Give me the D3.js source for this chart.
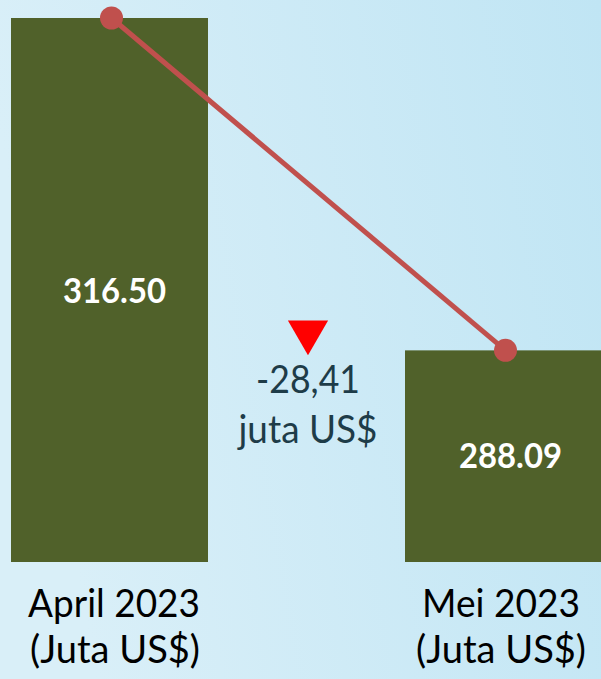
<!DOCTYPE html>
<meta charset="utf-8">
<style>
    body { margin: 0; }
    text { font-family: Lato, "Open Sans", sans-serif; }
    .bar { fill: #50612a; }
    .trend { stroke: #c0504d; stroke-width: 5; fill: none; }
    .dot { fill: #c0504d; }
    .val { fill: #ffffff; font-weight: bold; }
    .delta { fill: #1e3c48; }
    .cat { fill: #000000; }
</style>
<body>
<script src="https://cdn.jsdelivr.net/npm/d3@7"></script>
<script>

    var months = ["April 2023", "Mei 2023"];
    var values = [316.50, 288.09];
    var valueLabels = ["316.50", "288.09"];
    var unitLabel = "(Juta US$)";

    var width = 601, height = 679;

    var svg = d3.select("body").append("svg")
            .attr("width", width)
            .attr("height", height);

    var grad = svg.append("defs").append("linearGradient")
            .attr("id", "bg")
            .attr("x1", "0%").attr("y1", "20%")
            .attr("x2", "100%").attr("y2", "0%");
    grad.append("stop").attr("offset", "0%").attr("stop-color", "#d9eff8");
    grad.append("stop").attr("offset", "100%").attr("stop-color", "#c0e5f4");

    svg.append("rect").attr("width", width).attr("height", height).attr("fill", "url(#bg)");

    var x = d3.scaleBand()
            .domain(months)
            .range([11, 602])
            .paddingInner(0.5);

    var y = d3.scaleLinear()
            .domain([270, 316.5])
            .range([562, 18]);

    var data = months.map(function(m, i) { return {month: m, value: values[i], label: valueLabels[i]}; });

    svg.selectAll("rect.bar").data(data).enter()
            .append("rect")
            .attr("class", "bar")
            .attr("x", function(d) { return x(d.month); })
            .attr("y", function(d) { return y(d.value); })
            .attr("width", x.bandwidth())
            .attr("height", function(d) { return y.range()[0] - y(d.value); });

    var cx = function(d) { return x(d.month) + x.bandwidth() / 2 + 2; };

    svg.append("path")
            .attr("class", "trend")
            .attr("d", d3.line().x(cx).y(function(d) { return y(d.value); })(data));

    svg.selectAll("circle.dot").data(data).enter()
            .append("circle")
            .attr("class", "dot")
            .attr("cx", cx)
            .attr("cy", function(d) { return y(d.value); })
            .attr("r", 11.5);

    // value labels inside bars
    svg.selectAll("text.val").data(data).enter()
            .append("text")
            .attr("class", "val")
            .attr("text-anchor", "middle")
            .attr("x", function(d, i) { return cx(d) + (i ? 5 : 3); })
            .attr("y", function(d, i) { return i ? 468 : 303; })
            .attr("font-size", 34)
            .attr("textLength", 103)
            .attr("lengthAdjust", "spacingAndGlyphs")
            .text(function(d) { return d.label; });

    // category labels
    svg.selectAll("text.cat").data(data).enter()
            .append("text")
            .attr("class", "cat")
            .attr("text-anchor", "middle")
            .attr("x", function(d, i) { return i ? 501 : 114; })
            .attr("y", 617)
            .attr("font-size", 38)
            .attr("textLength", function(d, i) { return i ? 158 : 172; })
            .attr("lengthAdjust", "spacingAndGlyphs")
            .text(function(d) { return d.month; });

    svg.selectAll("text.unit").data(data).enter()
            .append("text")
            .attr("class", "cat unit")
            .attr("text-anchor", "middle")
            .attr("x", function(d, i) { return i ? 501 : 115; })
            .attr("y", 663)
            .attr("font-size", 38)
            .attr("textLength", 170)
            .attr("lengthAdjust", "spacingAndGlyphs")
            .text(unitLabel);

    // change marker
    var diff = values[1] - values[0];
    var mx = 308;
    svg.append("path")
            .attr("d", d3.symbol().type(d3.symbolTriangle).size(700)())
            .attr("transform", "translate(" + mx + ",332) rotate(180)")
            .attr("fill", "#ff0000");

    svg.append("text")
            .attr("class", "delta")
            .attr("text-anchor", "middle")
            .attr("x", mx)
            .attr("y", 393)
            .attr("font-size", 38)
            .attr("textLength", 104)
            .attr("lengthAdjust", "spacingAndGlyphs")
            .text(diff.toFixed(2).replace(".", ","));

    svg.append("text")
            .attr("class", "delta")
            .attr("text-anchor", "middle")
            .attr("x", mx)
            .attr("y", 443)
            .attr("font-size", 38)
            .attr("textLength", 139)
            .attr("lengthAdjust", "spacingAndGlyphs")
            .text("juta US$");

</script>
